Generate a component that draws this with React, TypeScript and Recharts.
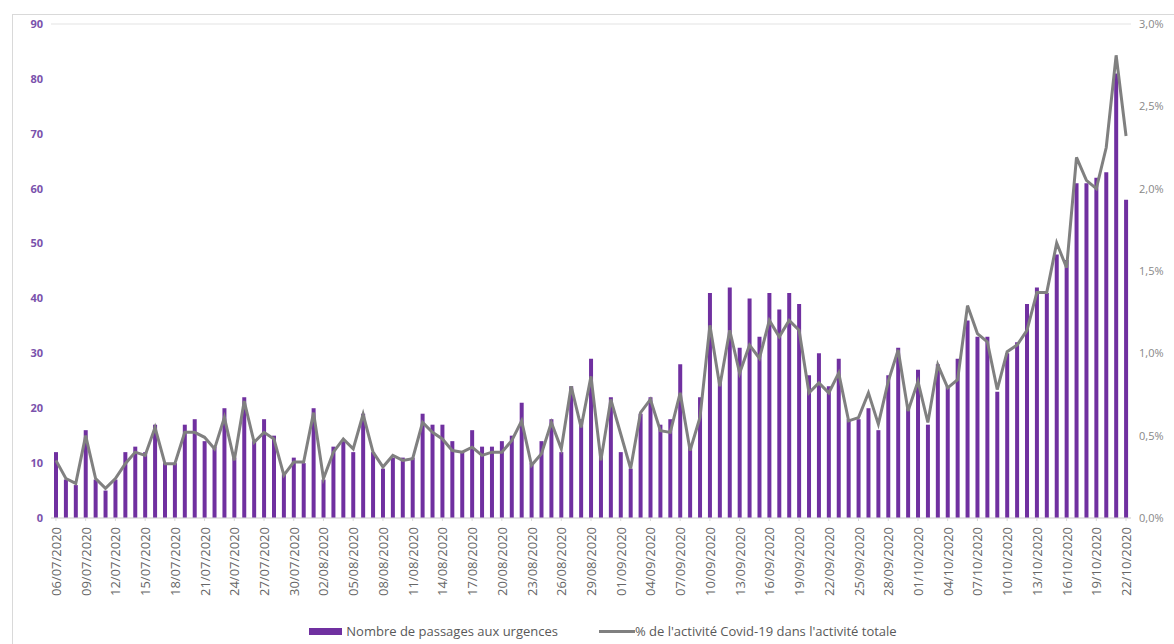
import { ComposedChart, Bar, Line, XAxis, YAxis, CartesianGrid, Legend } from 'recharts';

// Daily dates from 06/07/2020 to 22/10/2020
const dates = [
  "06/07/2020", "07/07/2020", "08/07/2020", "09/07/2020", "10/07/2020", "11/07/2020", "12/07/2020",
  "13/07/2020", "14/07/2020", "15/07/2020", "16/07/2020", "17/07/2020", "18/07/2020", "19/07/2020",
  "20/07/2020", "21/07/2020", "22/07/2020", "23/07/2020", "24/07/2020", "25/07/2020", "26/07/2020",
  "27/07/2020", "28/07/2020", "29/07/2020", "30/07/2020", "31/07/2020", "01/08/2020", "02/08/2020",
  "03/08/2020", "04/08/2020", "05/08/2020", "06/08/2020", "07/08/2020", "08/08/2020", "09/08/2020",
  "10/08/2020", "11/08/2020", "12/08/2020", "13/08/2020", "14/08/2020", "15/08/2020", "16/08/2020",
  "17/08/2020", "18/08/2020", "19/08/2020", "20/08/2020", "21/08/2020", "22/08/2020", "23/08/2020",
  "24/08/2020", "25/08/2020", "26/08/2020", "27/08/2020", "28/08/2020", "29/08/2020", "30/08/2020",
  "31/08/2020", "01/09/2020", "02/09/2020", "03/09/2020", "04/09/2020", "05/09/2020", "06/09/2020",
  "07/09/2020", "08/09/2020", "09/09/2020", "10/09/2020", "11/09/2020", "12/09/2020", "13/09/2020",
  "14/09/2020", "15/09/2020", "16/09/2020", "17/09/2020", "18/09/2020", "19/09/2020", "20/09/2020",
  "21/09/2020", "22/09/2020", "23/09/2020", "24/09/2020", "25/09/2020", "26/09/2020", "27/09/2020",
  "28/09/2020", "29/09/2020", "30/09/2020", "01/10/2020", "02/10/2020", "03/10/2020", "04/10/2020",
  "05/10/2020", "06/10/2020", "07/10/2020", "08/10/2020", "09/10/2020", "10/10/2020", "11/10/2020",
  "12/10/2020", "13/10/2020", "14/10/2020", "15/10/2020", "16/10/2020", "17/10/2020", "18/10/2020",
  "19/10/2020", "20/10/2020", "21/10/2020", "22/10/2020",
];

// Nombre de passages aux urgences
const passages = [
  12, 7, 6, 16, 7, 5, 7, 12, 13, 12, 17, 10, 10, 17,
  18, 14, 13, 20, 11, 22, 14, 18, 15, 8, 11, 10, 20, 7,
  13, 14, 12, 19, 12, 9, 11, 11, 11, 19, 17, 17, 14, 12,
  16, 13, 13, 14, 15, 21, 10, 14, 18, 12, 24, 18, 29, 12,
  22, 12, 9, 19, 22, 17, 18, 28, 13, 22, 41, 25, 42, 31,
  40, 33, 41, 38, 41, 39, 26, 30, 24, 29, 18, 18, 20, 16,
  26, 31, 20, 27, 17, 28, 24, 29, 36, 33, 33, 23, 30, 32,
  39, 42, 41, 48, 47, 61, 61, 62, 63, 81, 58,
];

// % de l'activité Covid-19 dans l'activité totale
const pctCovid = [
  0.35, 0.24, 0.21, 0.50, 0.24, 0.18, 0.24, 0.33, 0.40, 0.38, 0.55, 0.33, 0.33, 0.52,
  0.52, 0.49, 0.42, 0.61, 0.35, 0.71, 0.46, 0.52, 0.48, 0.26, 0.34, 0.34, 0.64, 0.24,
  0.40, 0.48, 0.42, 0.63, 0.40, 0.31, 0.38, 0.35, 0.36, 0.58, 0.52, 0.48, 0.41, 0.40,
  0.43, 0.38, 0.40, 0.40, 0.47, 0.59, 0.32, 0.39, 0.58, 0.42, 0.80, 0.55, 0.86, 0.35,
  0.72, 0.51, 0.30, 0.64, 0.72, 0.53, 0.52, 0.76, 0.41, 0.61, 1.17, 0.80, 1.14, 0.88,
  1.05, 0.97, 1.20, 1.10, 1.20, 1.14, 0.76, 0.82, 0.76, 0.88, 0.59, 0.61, 0.76, 0.57,
  0.83, 1.02, 0.65, 0.83, 0.58, 0.93, 0.79, 0.84, 1.29, 1.12, 1.07, 0.78, 1.01, 1.05,
  1.14, 1.37, 1.37, 1.67, 1.52, 2.19, 2.05, 2.00, 2.25, 2.81, 2.32,
];

const leftTicks = [0, 10, 20, 30, 40, 50, 60, 70, 80, 90];
const rightTicks = [0, 0.5, 1, 1.5, 2, 2.5, 3];

const BAR_LABEL = "Nombre de passages aux urgences";
const LINE_LABEL = "% de l'activité Covid-19 dans l'activité totale";

const data = dates.map((d, i) => ({ date: d, passages: passages[i], pct: pctCovid[i] }));

const FONT = '"Open Sans", "Liberation Sans", sans-serif';

const DateTick = ({ x, y, payload }: any) => (
  <text
    x={x}
    y={y}
    transform={`rotate(-90, ${x}, ${y})`}
    textAnchor="end"
    dominantBaseline="central"
    fill="#666"
    fontSize={13}
    fontFamily={FONT}
  >
    {payload.value}
  </text>
);

const LegendContent = () => (
  <div style={{ height: 36, boxSizing: 'border-box', paddingTop: 10, paddingLeft: 32, display: 'flex', alignItems: 'center', justifyContent: 'center', fontFamily: FONT, fontSize: 13, color: '#595959' }}>
    <span style={{ display: 'inline-block', width: 33, height: 7, background: '#7030A0', marginRight: 4 }} />
    <span style={{ marginRight: 41 }}>{BAR_LABEL}</span>
    <span style={{ display: 'inline-block', width: 36, height: 3, background: '#808080' }} />
    <span>{LINE_LABEL}</span>
  </div>
);

export default function App() {
  return (
    <div style={{ position: 'absolute', left: 0, top: 0, width: 1174, height: 644, background: '#fff' }}>
      <div style={{ position: 'absolute', left: 12, top: 14, right: 0, bottom: 0, borderTop: '1px solid #d9d9d9', borderLeft: '1px solid #d9d9d9' }} />
      <ComposedChart width={1174} height={644} data={data} margin={{ top: 24, right: 0, left: 0, bottom: 0 }}>
        <CartesianGrid vertical={false} stroke="#e3e3e3" />
        <XAxis
          dataKey="date"
          interval={2}
          height={90}
          tick={<DateTick />}
          tickMargin={6}
          stroke="#d9d9d9"
          tickLine={{ stroke: '#d9d9d9' }}
          tickSize={3}
        />
        <YAxis
          yAxisId="left"
          domain={[0, 90]}
          ticks={leftTicks}
          width={51}
          axisLine={false}
          tickLine={false}
          tick={{ fill: '#7A52AC', fontSize: 11, fontWeight: 700, fontFamily: FONT }}
        />
        <YAxis
          yAxisId="right"
          orientation="right"
          domain={[0, 3]}
          ticks={rightTicks}
          width={43}
          axisLine={false}
          tickLine={false}
          tickFormatter={(v: number) => v.toFixed(1).replace('.', ',') + '%'}
          tick={{ fill: '#888', fontSize: 11, fontFamily: FONT }}
        />
        <Bar yAxisId="left" dataKey="passages" name={BAR_LABEL} fill="#7030A0" barSize={4} isAnimationActive={false} />
        <Line
          yAxisId="right"
          type="linear"
          dataKey="pct"
          name={LINE_LABEL}
          stroke="#808080"
          strokeWidth={3}
          dot={false}
          isAnimationActive={false}
        />
        <Legend verticalAlign="bottom" height={36} content={<LegendContent />} />
      </ComposedChart>
    </div>
  );
}
